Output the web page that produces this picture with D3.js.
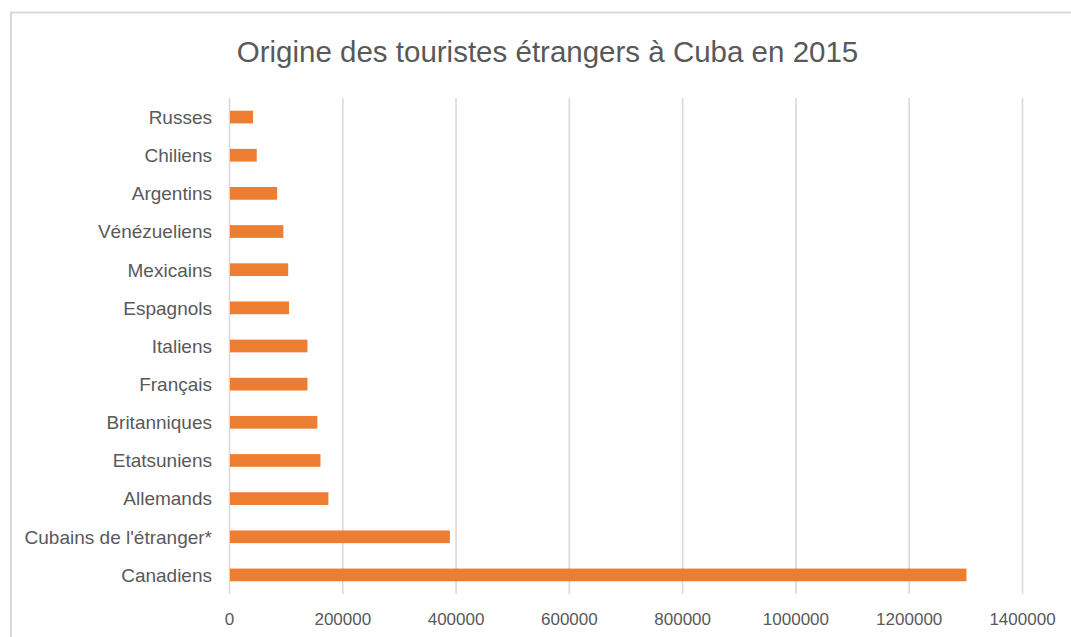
<!DOCTYPE html>
<html lang="fr">
<head>
<meta charset="utf-8">
<title>Origine des touristes étrangers à Cuba en 2015</title>
<script src="https://d3js.org/d3.v7.min.js"></script>
<style>
  html, body { margin: 0; padding: 0; background: #fff; }
  svg { display: block; }
  .axis text { font-family: "Liberation Sans", Arial, Helvetica, sans-serif; fill: #595959; }
</style>
</head>
<body>
<div id="chart"></div>
<script>
// categories from top to bottom, as in the picture
const categories = ["Russes", "Chiliens", "Argentins", "Vénézueliens", "Mexicains", "Espagnols",
  "Italiens", "Français", "Britanniques", "Etatsuniens", "Allemands", "Cubains de l'étranger*", "Canadiens"];
// number of tourists
const visitors = [42500, 49000, 85000, 96000, 104500, 106000,
  138500, 138500, 156000, 161500, 175500, 390000, 1302000];
const xTicks = [0, 200000, 400000, 600000, 800000, 1000000, 1200000, 1400000];
const title = "Origine des touristes étrangers à Cuba en 2015";

const width = 1071, height = 637;
const plot = { left: 229, right: 1022, top: 98, bottom: 594 };

const svg = d3.select("#chart").append("svg")
  .attr("width", width)
  .attr("height", height);

// outer frame (only top and left edges visible in the crop)
svg.append("path")
  .attr("d", "M11,637 V12.5 H1071")
  .attr("fill", "none")
  .attr("stroke", "#d9d9d9")
  .attr("stroke-width", 2);

svg.append("text")
  .attr("x", 547.5)
  .attr("y", 62)
  .attr("text-anchor", "middle")
  .attr("font-family", "'Liberation Sans', Arial, Helvetica, sans-serif")
  .attr("font-size", "29.5px")
  .attr("fill", "#595959")
  .text(title);

const x = d3.scaleLinear()
  .domain([0, 1400000])
  .range([plot.left, plot.right]);

const y = d3.scaleBand()
  .domain(categories)
  .range([plot.top, plot.bottom])
  .paddingInner(0.667)
  .paddingOuter(0.333);

// x axis with gridlines
const xAxis = svg.append("g")
  .attr("class", "axis x")
  .attr("transform", "translate(0," + plot.top + ")")
  .call(d3.axisBottom(x)
    .tickValues(xTicks)
    .tickFormat(d3.format("d"))
    .tickSize(plot.bottom - plot.top)
    .tickPadding(19));
xAxis.select(".domain").remove();
xAxis.selectAll(".tick line")
  .attr("stroke", "#d9d9d9")
  .attr("stroke-width", 1.6);
xAxis.selectAll(".tick text")
  .attr("font-size", "17px");

// bars
svg.append("g")
  .selectAll("rect")
  .data(categories)
  .join("rect")
  .attr("x", x(0) + 1)
  .attr("y", d => y(d))
  .attr("width", (d, i) => x(visitors[i]) - x(0) - 1)
  .attr("height", y.bandwidth())
  .attr("fill", "#ed7d31");

// category labels
const yAxis = svg.append("g")
  .attr("class", "axis y")
  .attr("transform", "translate(" + plot.left + ",0)")
  .call(d3.axisLeft(y).tickSize(0).tickPadding(17));
yAxis.select(".domain").remove();
yAxis.selectAll(".tick text")
  .attr("font-size", "19px")
  .attr("dy", "0.36em");
</script>
</body>
</html>
